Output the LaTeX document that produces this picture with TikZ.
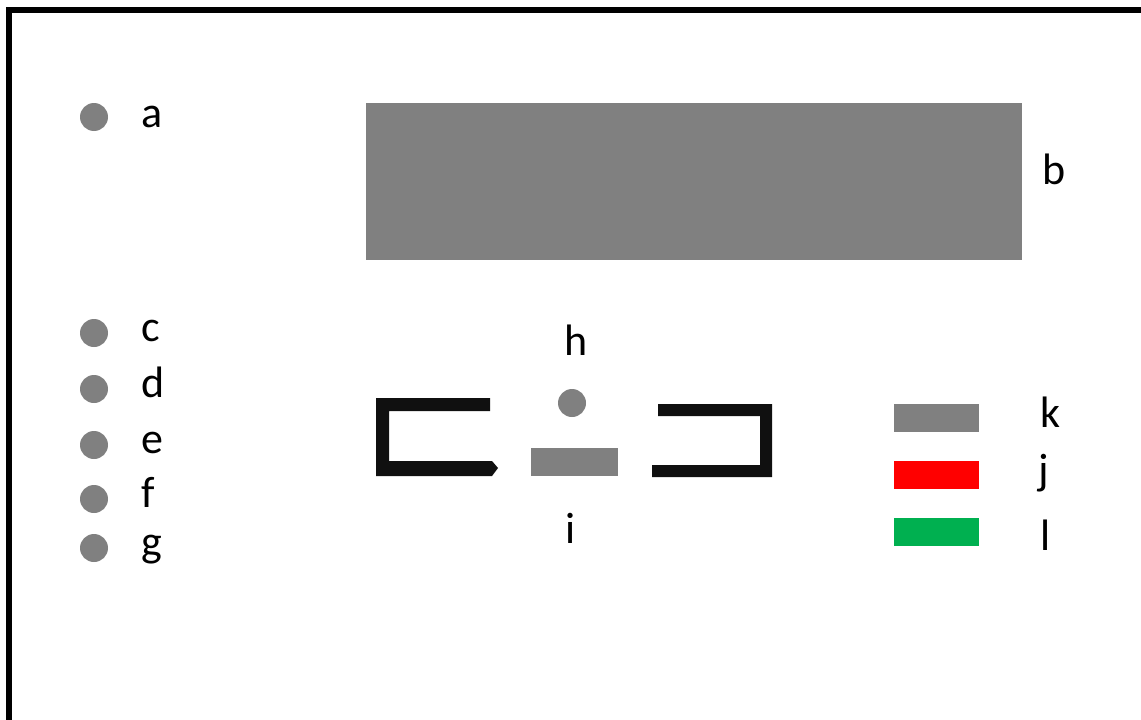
\documentclass[tikz,border=0pt]{standalone}
\usepackage{fontspec}
\setmainfont{Carlito}
\usetikzlibrary{positioning}
\definecolor{boxgray}{RGB}{128,128,128}
\definecolor{legred}{RGB}{255,0,0}
\definecolor{leggreen}{RGB}{0,176,80}
\definecolor{inkblack}{RGB}{16,16,16}
\tikzset{
    dot/.style={circle, fill=boxgray, inner sep=0pt, minimum size=28pt},
    bar/.style={rectangle, fill=#1, inner sep=0pt, minimum width=85pt, minimum height=28pt},
    bar/.default=boxgray,
    lbl/.style={inner sep=0pt, anchor=base west, font=\fontsize{44}{52}\selectfont},
}

\begin{document}
\begin{tikzpicture}[
    x=1pt, y=-1pt,
    frame/.style={draw=black, line width=6pt},
    bracket/.style={fill=inkblack},
]
\useasboundingbox (0,0) rectangle (1141,720);

% frame, runs off the right and bottom edges
\draw[frame] (9,720) -- (9,10) -- (1141,10);

% column of dots on the left
\foreach \name/\y/\dy in {a/117/10, c/333/8, d/389/8, e/445/8, f/499/8, g/548/8} {
    \node[dot] (dot\name) at (94,\y) {};
    \node[lbl] (lbl\name) at (141,\y+\dy) {\name};
}

% big block
\node[bar, minimum width=656pt, minimum height=157pt] (b) at (694,181.5) {};
\node[lbl] (lblb) at (1042,184) {b};

% the two brackets
\fill[bracket] (376,398) -- (490,398) -- (490,411) -- (389,411) -- (389,461)
               -- (492,461) -- (498,468) -- (492,476) -- (376,476) -- cycle;
\fill[bracket] (658,404) -- (772,404) -- (772,477) -- (652,477) -- (652,465)
               -- (760,465) -- (760,416) -- (658,416) -- cycle;

% dot and bar between them
\node[dot] (h) at (572,403) {};
\node[lbl, anchor=base] (lblh) at (576,355) {h};
\node[bar, minimum width=87pt] (i) at (574.5,462) {};
\node[lbl, anchor=base] (lbli) at (570.5,543) {i};

% legend
\node[bar] (k) at (936.5,418) {};
\node[bar=legred] (j) at (936.5,475) {};
\node[bar=leggreen] (l) at (936.5,531.5) {};
\node[lbl] (lblk) at (1040,427) {k};
\node[lbl] (lblj) at (1038,484) {j};
\node[lbl] (lbll) at (1040,550) {l};
\end{tikzpicture}
\end{document}
